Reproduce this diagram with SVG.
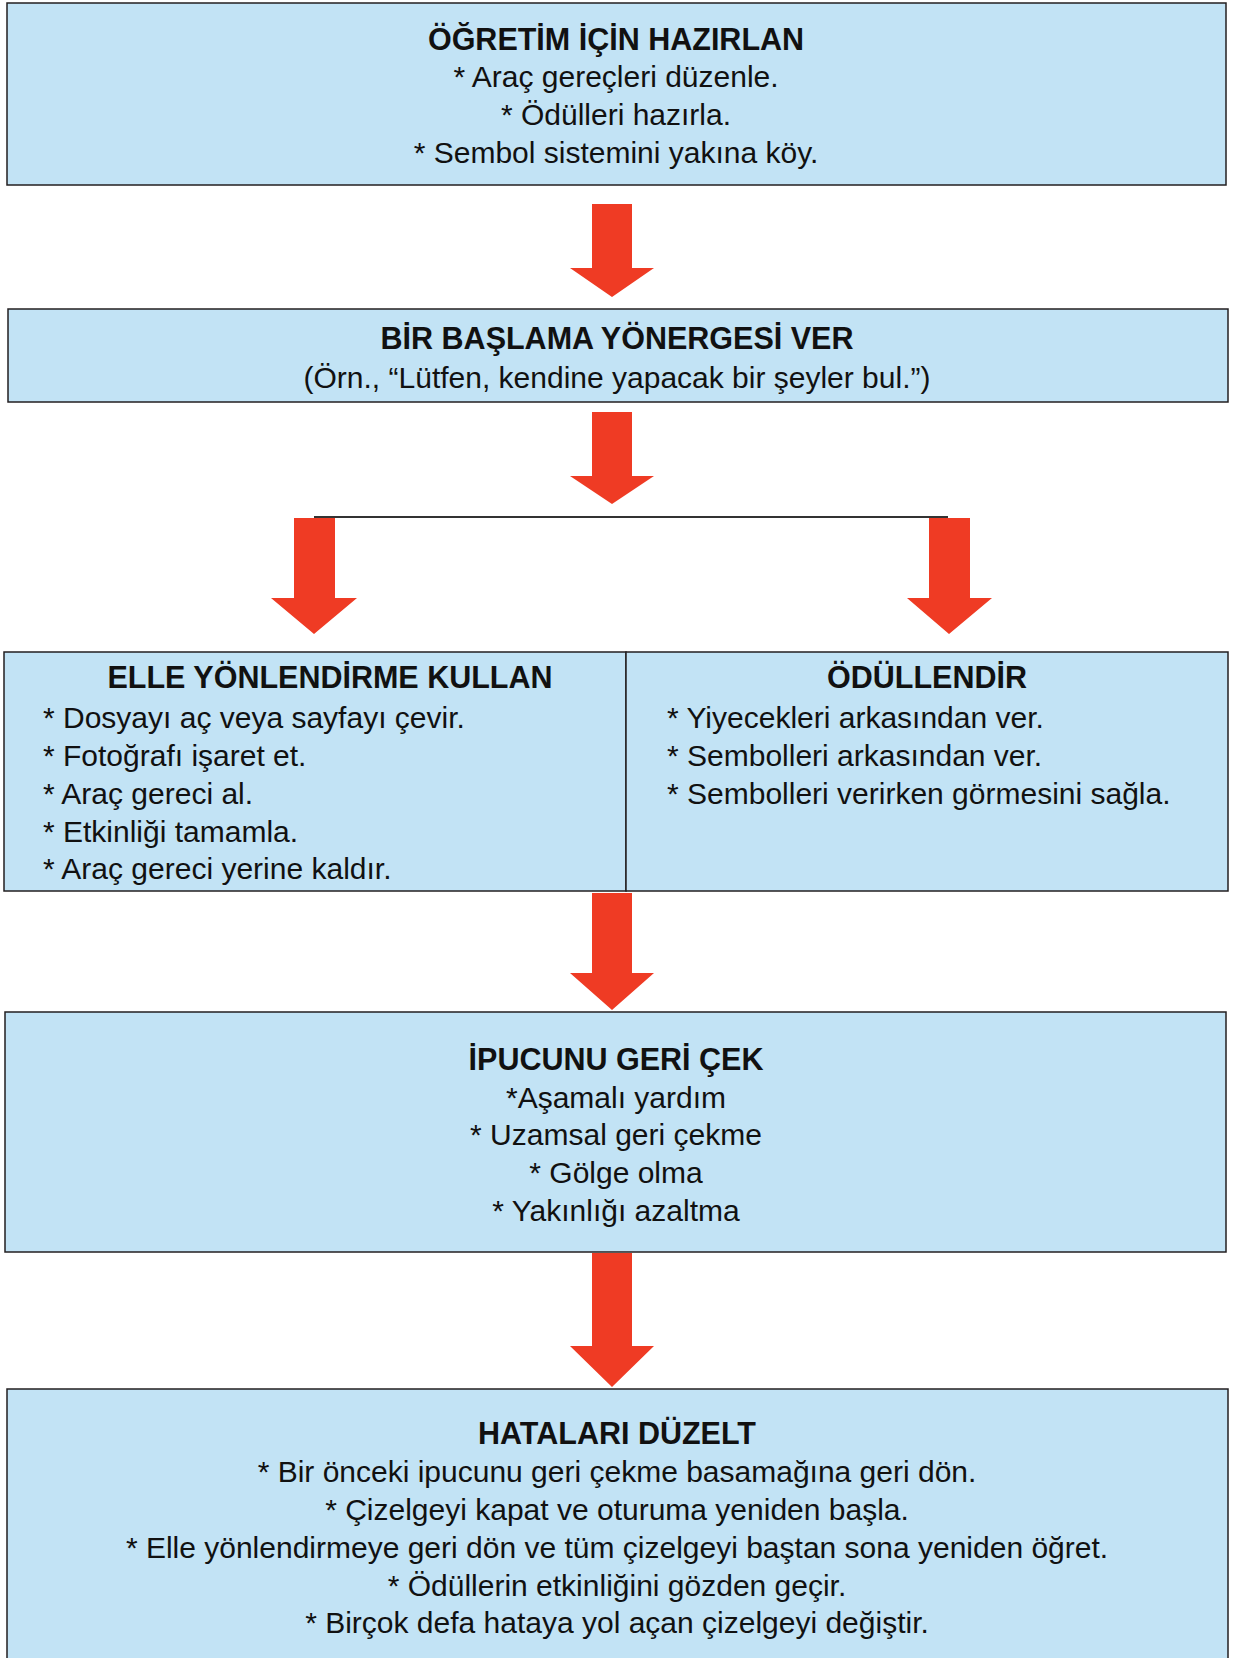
<svg xmlns="http://www.w3.org/2000/svg" width="1234" height="1658" viewBox="0 0 1234 1658">
<style>
.box{fill:#C2E3F5;stroke:#231F20;stroke-width:1.5}
.t{font-family:"Liberation Sans",Arial,sans-serif;font-size:30.5px;font-weight:bold;fill:#111;text-anchor:middle}
.b{font-family:"Liberation Sans",Arial,sans-serif;font-size:30px;fill:#111;text-anchor:middle}
.l{font-family:"Liberation Sans",Arial,sans-serif;font-size:30px;fill:#111}
.arr{fill:#EF3B24}
</style>
<rect width="1234" height="1658" fill="#fff"/>
<g id="connectors">
<polygon class="arr" points="592,204 632,204 632,268 654,268 612,297 570,268 592,268"/>
<polygon class="arr" points="592,412 632,412 632,476 654,476 612,504 570,476 592,476"/>
<line x1="314" y1="517" x2="948" y2="517" stroke="#333" stroke-width="2"/>
<polygon class="arr" points="294,518 335,518 335,598 357,598 314,634 271,598 294,598"/>
<polygon class="arr" points="929,518 970,518 970,598 992,598 949,634 907,598 929,598"/>
<polygon class="arr" points="592,893 632,893 632,973 654,973 612,1010 570,973 592,973"/>
<polygon class="arr" points="592,1253 632,1253 632,1346 654,1346 612,1387 570,1346 592,1346"/>
</g>
<g id="node-hazirlan">
<rect class="box" x="7" y="3" width="1219" height="182"/>
<text class="t" x="616" y="50">ÖĞRETİM İÇİN HAZIRLAN</text>
<text class="b" x="616" y="87">* Araç gereçleri düzenle.</text>
<text class="b" x="616" y="125">* Ödülleri hazırla.</text>
<text class="b" x="616" y="163">* Sembol sistemini yakına köy.</text>
</g>
<g id="node-yonerge">
<rect class="box" x="8" y="309" width="1220" height="93"/>
<text class="t" x="617" y="349">BİR BAŞLAMA YÖNERGESİ VER</text>
<text class="b" x="617" y="388">(Örn., “Lütfen, kendine yapacak bir şeyler bul.”)</text>
</g>
<g id="node-elle">
<rect class="box" x="4" y="652" width="622" height="239"/>
<text class="t" x="330" y="688">ELLE YÖNLENDİRME KULLAN</text>
<text class="l" x="43" y="728">* Dosyayı aç veya sayfayı çevir.</text>
<text class="l" x="43" y="766">* Fotoğrafı işaret et.</text>
<text class="l" x="43" y="804">* Araç gereci al.</text>
<text class="l" x="43" y="842">* Etkinliği tamamla.</text>
<text class="l" x="43" y="879">* Araç gereci yerine kaldır.</text>
</g>
<g id="node-odullendir">
<rect class="box" x="626" y="652" width="602" height="239"/>
<text class="t" x="927" y="688">ÖDÜLLENDİR</text>
<text class="l" x="667" y="728">* Yiyecekleri arkasından ver.</text>
<text class="l" x="667" y="766">* Sembolleri arkasından ver.</text>
<text class="l" x="667" y="804">* Sembolleri verirken görmesini sağla.</text>
</g>
<g id="node-ipucu">
<rect class="box" x="5" y="1012" width="1221" height="240"/>
<text class="t" x="616" y="1070">İPUCUNU GERİ ÇEK</text>
<text class="b" x="616" y="1108">*Aşamalı yardım</text>
<text class="b" x="616" y="1145">* Uzamsal geri çekme</text>
<text class="b" x="616" y="1183">* Gölge olma</text>
<text class="b" x="616" y="1221">* Yakınlığı azaltma</text>
</g>
<g id="node-hatalar">
<rect class="box" x="7" y="1389" width="1221" height="280"/>
<text class="t" x="617" y="1444">HATALARI DÜZELT</text>
<text class="b" x="617" y="1482">* Bir önceki ipucunu geri çekme basamağına geri dön.</text>
<text class="b" x="617" y="1520">* Çizelgeyi kapat ve oturuma yeniden başla.</text>
<text class="b" x="617" y="1558">* Elle yönlendirmeye geri dön ve tüm çizelgeyi baştan sona yeniden öğret.</text>
<text class="b" x="617" y="1596">* Ödüllerin etkinliğini gözden geçir.</text>
<text class="b" x="617" y="1633">* Birçok defa hataya yol açan çizelgeyi değiştir.</text>
</g>
</svg>
